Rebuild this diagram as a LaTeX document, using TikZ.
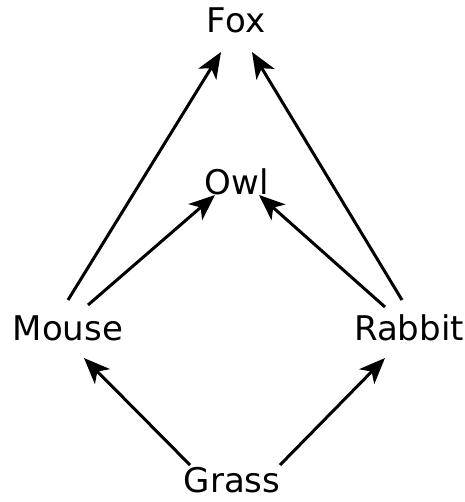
\documentclass[tikz,border=0pt]{standalone}
\usepackage{fontspec}
\setmainfont{DejaVu Sans}
\usetikzlibrary{arrows.meta}
\begin{document}
\begin{tikzpicture}[x=1pt,y=-1pt,
  lbl/.style={font=\fontsize{34}{40}\selectfont, inner sep=4pt},
  edge/.style={line width=3pt, -{Stealth[length=26pt,width=21pt,inset=7pt]}}]
\useasboundingbox (0,0) rectangle (464,502);
\node[lbl] (fox) at (236,20) {Fox};
\node[lbl] (owl) at (237,182) {Owl};
\node[lbl] (mouse) at (68,328) {Mouse};
\node[lbl] (rabbit) at (409,328) {Rabbit};
\node[lbl] (grass) at (232,480) {Grass};
\coordinate (mfA) at (68,300);
\coordinate (moA) at (88,305);
\coordinate (roA) at (385,307);
\coordinate (rfA) at (402,300);
\coordinate (gmA) at (190,465);
\coordinate (grA) at (280,465);
\coordinate (mfB) at (221,52);
\coordinate (moB) at (215,195);
\coordinate (roB) at (259,195);
\coordinate (rfB) at (252,52);
\coordinate (gmB) at (84,358);
\coordinate (grB) at (385,358);
\draw[edge] (mfA) -- (mfB);
\draw[edge] (moA) -- (moB);
\draw[edge] (roA) -- (roB);
\draw[edge] (rfA) -- (rfB);
\draw[edge] (gmA) -- (gmB);
\draw[edge] (grA) -- (grB);
\end{tikzpicture}
\end{document}
